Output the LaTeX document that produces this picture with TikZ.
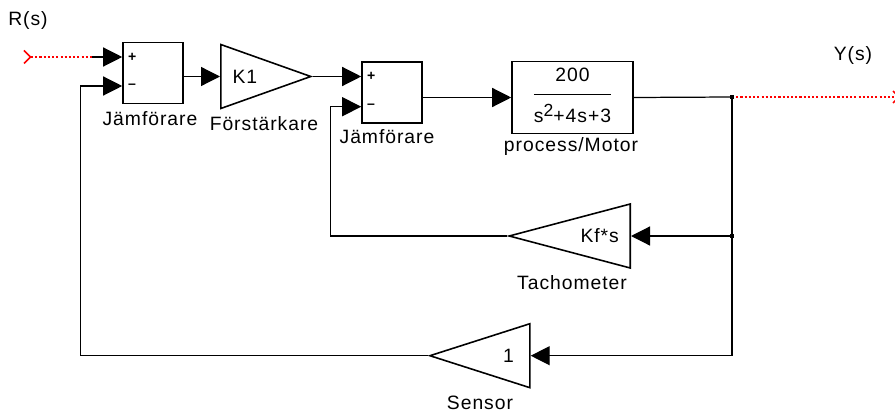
\documentclass[tikz,border=0pt]{standalone}
\usepackage{fontspec}
\setmainfont[LetterSpace=5]{Liberation Sans}
\usetikzlibrary{arrows.meta, shapes.geometric}

\begin{document}
\begin{tikzpicture}[x=0.02cm, y=-0.02cm,
        every node/.style={font=\fontsize{11}{13}\selectfont},
        blk/.style={draw, line width=0.9pt, inner sep=0pt},
        gain/.style={draw, line width=0.9pt, isosceles triangle, isosceles triangle stretches,
            inner sep=0pt, minimum width=1.28cm},
        sig/.style={line width=0.7pt, -{Triangle[length=0.38cm, width=0.38cm]}},
        wire/.style={line width=0.7pt},
        redwire/.style={red, line width=0.9pt, dash pattern=on 1.2pt off 1.2pt},
        port/.style={font=\fontsize{8}{9}\selectfont\bfseries, inner sep=0pt, anchor=west}]
                \useasboundingbox (0,0) rectangle (895,412);
                \coordinate (rin) at (92,57);
                \coordinate (yout) at (895,97);
                \coordinate (br1) at (732,97);
                \coordinate (br2) at (732,236);
                \node[blk, minimum width=1.2cm, minimum height=1.22cm] (sum1) at (153,73) {};
                \node[blk, minimum width=1.2cm, minimum height=1.22cm] (sum2) at (392,92.7) {};
                \node[blk, minimum width=2.42cm, minimum height=1.44cm] (motor) at (572.5,97.5)
                    {\begin{tabular}{@{}c@{}}200\\[3pt]\hline\rule{0pt}{16pt}s\raisebox{0.6ex}{\fontsize{10}{10}\selectfont 2}+4s+3\end{tabular}};
                \node[gain, minimum height=1.8cm, anchor=lower side] (k1) at (220,76.5) {K1};
                \node[gain, shape border rotate=180, minimum height=2.42cm, anchor=lower side] (tacho) at (631,236) {Kf*s};
                \node[gain, shape border rotate=180, minimum height=2cm, anchor=lower side] (sens) at (530.7,355.7) {1};
                \node[port] (s1p) at ([xshift=0.11cm, yshift=0.32cm]sum1.west) {+};
                \node[port] (s1m) at ([xshift=0.11cm, yshift=-0.26cm]sum1.west) {--};
                \node[port] (s2p) at ([xshift=0.11cm, yshift=0.32cm]sum2.west) {+};
                \node[port] (s2m) at ([xshift=0.11cm, yshift=-0.28cm]sum2.west) {--};
                \node (rlbl) at (28,21) {R(s)};
                \node (ylbl) at (853,55) {Y(s)};
                \node (lsum1) at (150,119) {Jämförare};
                \node (lk1) at (264,124) {Förstärkare};
                \node (lsum2) at (387,137) {Jämförare};
                \node (lmotor) at (571,147) {process/Motor};
                \node (ltacho) at (572,283) {Tachometer};
                \node (lsens) at (480,403) {Sensor};
                \draw[red, line width=0.9pt] (24,50.5) -- (30.5,57) -- (24,63.5);
                \draw[redwire] (31,57) -- (rin);
                \draw[red, line width=0.9pt] (893,91) -- (899,97) -- (893,103);
                \draw[sig] (rin) -- (rin -| sum1.west);
                \draw[sig] (sum1.east |- k1.lower side) -- (k1.lower side);
                \draw[sig] (k1.apex) -- (k1.apex -| sum2.west);
                \draw[sig] (sum2.east |- motor.west) -- (motor.west);
                \draw[wire] (motor.east) -- (br1);
                \draw[redwire] (br1) -- (yout);
                \draw[wire] (br1) -- (br2);
                \draw[sig] (br2) -- (tacho.lower side);
                \draw[sig] (br2) |- (sens.lower side);
                \draw[sig] (tacho.apex) -| ([xshift=-0.62cm, yshift=-0.28cm]sum2.west) -- ([yshift=-0.28cm]sum2.west);
                \draw[sig] (sens.apex) -| ([xshift=-0.84cm, yshift=-0.26cm]sum1.west) -- ([yshift=-0.26cm]sum1.west);
                \fill (br1) +(-2,-2) rectangle +(2,2);
                \fill (br2) +(-2,-2) rectangle +(2,2);
            \end{tikzpicture}
\end{document}
